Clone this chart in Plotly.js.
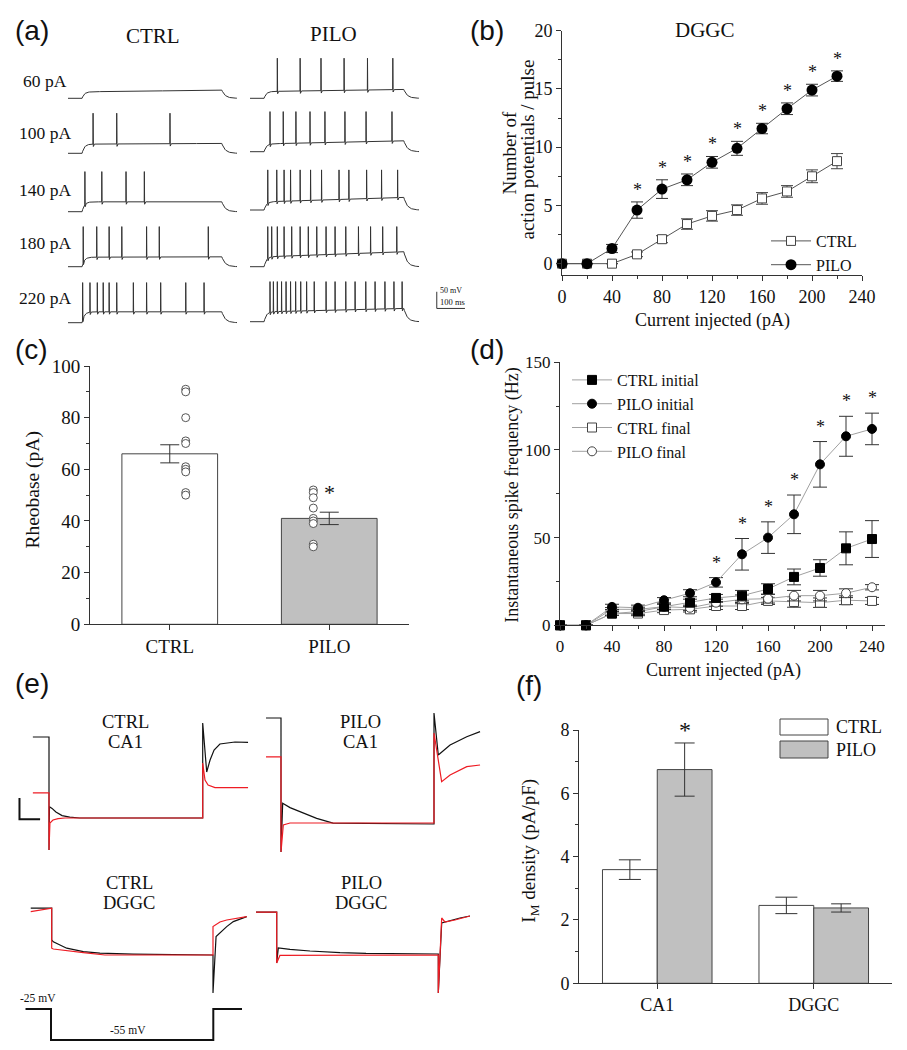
<!DOCTYPE html>
<html><head><meta charset="utf-8">
<script src="https://cdn.plot.ly/plotly-3.0.1.min.js"></script>
<style>html,body{margin:0;padding:0;background:#fff}#chart{width:907px;height:1050px}</style>
</head><body><div id="chart"></div>
<script>
// ================= DATA =================
// (a) firing traces: spike times (ms) per current step, plateau potentials (mV)
const stepLabels = ['60 pA','100 pA','140 pA','180 pA','220 pA'];
const ctrlSpikes = [
  [],
  [89, 173, 362],
  [60, 120, 206, 271],
  [54, 102, 146, 191, 279, 324, 498],
  [52, 78, 104, 125, 146, 173, 232, 279, 329, 418, 483]
];
const piloSpikes = [
  [97, 178, 252, 334, 417, 507],
  [71, 118, 163, 213, 266, 337, 412, 504],
  [63, 95, 121, 144, 178, 215, 254, 316, 351, 414, 467, 524],
  [63, 77, 97, 121, 148, 178, 207, 237, 270, 302, 340, 385, 428, 471, 521],
  [71, 83, 97, 112, 128, 144, 162, 180, 201, 228, 270, 302, 340, 373, 411, 444, 479, 511, 540]
];
const ctrlPlatStart = [-51, -43, -41, -42, -38];
const ctrlPlatEnd   = [-46, -41, -41, -41, -38];
const piloPlatStart = [-50, -47, -46, -41, -41];
const piloPlatEnd   = [-44, -38, -33, -26, -31];
const restMV = -70, spikePeakMV = 48, stimOnMS = 50, stimOffMS = 546;

// (b) number of APs / pulse (DGGC)
const currentB = [0, 20, 40, 60, 80, 100, 120, 140, 160, 180, 200, 220];
const ctrlB    = [0, 0, 0, 0.8, 2.1, 3.4, 4.1, 4.6, 5.6, 6.2, 7.5, 8.8];
const ctrlBErr = [0, 0, 0, 0.2, 0.3, 0.45, 0.45, 0.45, 0.5, 0.5, 0.55, 0.65];
const piloB    = [0, 0, 1.3, 4.6, 6.4, 7.2, 8.7, 9.9, 11.6, 13.3, 14.9, 16.1];
const piloBErr = [0, 0, 0.35, 0.7, 0.8, 0.5, 0.5, 0.6, 0.45, 0.5, 0.5, 0.45];
const sigB = [60, 80, 100, 120, 140, 160, 180, 200, 220];

// (c) rheobase
const groupsC = ['CTRL', 'PILO'];
const rheoMean = [66, 41];
const rheoErr = [3.5, 2.4];
const rheoCtrlCells = [91, 90, 80, 71, 70, 61, 60, 59, 51, 50];
const rheoPiloCells = [52, 51, 49, 45, 41, 40, 39, 31, 30];

// (d) instantaneous spike frequency
const currentD = [0, 20, 40, 60, 80, 100, 120, 140, 160, 180, 200, 220, 240];
const ctrlInit     = [0, 0, 6.7, 7.8, 10.6, 12.9, 15.6, 16.9, 20.7, 27.6, 32.7, 43.9, 49.2];
const ctrlInitErr  = [0, 0, 1, 1.5, 1.5, 2, 2, 3, 3, 4.5, 4.7, 9.4, 10.5];
const piloInit     = [0, 0, 10.5, 10, 14.3, 18.3, 24.5, 40.5, 50, 63.3, 91.8, 107.8, 112];
const piloInitErr  = [0, 0, 1.5, 1.5, 1.5, 2, 2.7, 9, 9, 11, 13, 11.4, 9];
const ctrlFinal    = [0, 0, 6.7, 6.7, 8.7, 9.1, 11, 11, 13.9, 13.3, 12.9, 14.3, 13.9];
const ctrlFinalErr = [0, 0, 1, 1.2, 1.5, 1.5, 2, 2, 2, 3, 2.7, 2.5, 2];
const piloFinal    = [0, 0, 9.1, 9.1, 10.6, 10, 12.9, 14.8, 15.2, 16.9, 16.9, 18.3, 21.7];
const piloFinalErr = [0, 0, 1, 1.2, 1.5, 1.5, 2, 2.5, 2.5, 3, 3, 2.5, 1.5];
const sigD = [120, 140, 160, 180, 200, 220, 240];

// (e) M-current recordings: time (ms) from step onset, current (pA); black = control, red = after XE991
const ctrlCA1BlackT = [-105, 0, 0, 3, 20, 45, 85, 135, 200, 1000, 1000, 1026, 1048, 1074, 1112, 1210, 1295];
const ctrlCA1BlackI = [405, 405, -160, 56, 48, 30, 12, 4, 0, 0, 475, 230, 290, 340, 370, 380, 378];
const ctrlCA1RedT   = [-105, 0, 0, 6, 26, 59, 104, 1000, 1000, 1015, 1035, 1080, 1295];
const ctrlCA1RedI   = [126, 126, -160, -25, -10, -3, 0, 0, 275, 190, 165, 152, 152];
const piloCA1BlackT = [-98, 0, 0, 11, 59, 124, 233, 340, 1000, 1000, 1028, 1105, 1214, 1301];
const piloCA1BlackI = [530, 530, -140, 104, 82, 62, 28, 4, 0, 555, 345, 395, 436, 462];
const piloCA1RedT   = [-98, 0, 0, 15, 59, 1000, 1000, 1050, 1105, 1214, 1301];
const piloCA1RedI   = [336, 336, -140, -5, 5, 5, 455, 212, 245, 287, 295];
const ctrlDGBlackT  = [-130, 0, 0, 10, 93, 196, 299, 504, 1000, 1000, 1019, 1043, 1085, 1126, 1209];
const ctrlDGBlackI  = [234, 234, 75, 66, 34, 17, 9, 4, 0, -190, 92, 110, 142, 167, 192];
const ctrlDGRedT    = [-130, 0, 0, 10, 196, 330, 1000, 1000, 1043, 1085, 1209];
const ctrlDGRedI    = [217, 234, 34, 30, 12, 0, 0, 142, 165, 175, 192];
const piloDGBlackT  = [-128, 0, 0, 10, 82, 206, 392, 553, 1000, 1000, 1021, 1072, 1134, 1196];
const piloDGBlackI  = [214, 214, -40, 35, 28, 20, 12, 8, 5, -190, 160, 172, 185, 195];
const piloDGRedT    = [-128, 0, 0, 20, 1000, 1000, 1021, 1041, 1103, 1196];
const piloDGRedI    = [214, 214, -40, -2, 0, -190, 185, 165, 175, 195];
const protoT = [-157, 0, 0, 1000, 1000, 1177];
const protoV = [-25, -25, -55, -55, -25, -25];

// (f) IM density
const regionsF = ['CA1', 'DGGC'];
const imCtrl = [3.59, 2.46];
const imCtrlErr = [0.31, 0.26];
const imPilo = [6.75, 2.38];
const imPiloErr = [0.84, 0.13];
const sigF = [true, false];

// ================= HELPERS =================
const W = 907, H = 1050;
const fx = p => p / W;
const fy = p => 1 - p / H;
const dom = (a, b) => [a / W, b / W];
const vdom = (top, bottom) => [1 - bottom / H, 1 - top / H];
const serif = 'Liberation Serif, Times New Roman, serif';
const sans = 'Liberation Sans, Arial, sans-serif';
const AX = '#333';

function axisStyle(extra) {
  return Object.assign({
    showline: true, linecolor: AX, linewidth: 1, ticks: 'outside', ticklen: 5,
    tickwidth: 1, tickcolor: AX, showgrid: false, zeroline: false,
    tickfont: {family: serif, size: 18, color: '#111'}, fixedrange: true
  }, extra);
}
function minor(d) { return {dtick: d, ticks: 'outside', ticklen: 3, tickwidth: 1, tickcolor: AX, showgrid: false}; }

function buildFiring(spikes, pStart, pEnd) {
  const base = restMV, on = stimOnMS, off = stimOffMS;
  const plat = t => pStart + (pEnd - pStart) * Math.min(Math.max((t - on) / (off - on), 0), 1);
  const sub = t => {
    if (t < on) return base;
    if (t < off) return base + (plat(t) - base) * (1 - Math.exp(-(t - on) / 8));
    const vOff = base + (plat(off) - base) * (1 - Math.exp(-(off - on) / 8));
    return base + (vOff - base) * Math.exp(-(t - off) / 12);
  };
  const pts = [];
  const inSpike = t => spikes.some(s => t >= s - 0.5 && t <= s + 5);
  for (let t = 0; t <= 600; t += 2) if (!inSpike(t)) pts.push([t, sub(t)]);
  pts.push([on, base]);
  spikes.forEach(s => {
    pts.push([s - 0.5, sub(s - 0.5)], [s, spikePeakMV], [s + 1, sub(s + 1) - 7], [s + 5, sub(s + 5)]);
  });
  pts.sort((a, b) => a[0] - b[0]);
  return {t: pts.map(p => p[0]), v: pts.map(p => p[1])};
}

const traces = [];
const annotations = [];
const shapes = [];
const layout = {
  width: W, height: H, margin: {l: 0, r: 0, t: 0, b: 0},
  paper_bgcolor: '#fff', plot_bgcolor: 'rgba(0,0,0,0)',
  showlegend: true, barmode: 'group', bargap: 0.3, bargroupgap: 0,
  font: {family: serif, color: '#111'},
  annotations: annotations, shapes: shapes
};

function ann(text, cx, cy, size, extra) {
  annotations.push(Object.assign({
    text: text, x: fx(cx), y: fy(cy), xref: 'paper', yref: 'paper',
    xanchor: 'center', yanchor: 'middle', showarrow: false,
    font: {family: serif, size: size, color: '#111'}
  }, extra || {}));
}

// ================= PANEL (a) =================
const kA = 0.2817, mvA = 0.34;
const ctrlBasePx = [98.3, 153.3, 211.7, 266.7, 322.7];
const piloBasePx = [98.3, 151.7, 210, 266.7, 321.7];
for (let i = 0; i < 5; i++) {
  const c = buildFiring(ctrlSpikes[i], ctrlPlatStart[i], ctrlPlatEnd[i]);
  const p = buildFiring(piloSpikes[i], piloPlatStart[i], piloPlatEnd[i]);
  const nc = 5 + i, np = 10 + i;
  traces.push({type: 'scatter', mode: 'lines', x: c.t, y: c.v, xaxis: 'x' + nc, yaxis: 'y' + nc,
    line: {color: '#333', width: 1}, showlegend: false, hoverinfo: 'skip'});
  traces.push({type: 'scatter', mode: 'lines', x: p.t, y: p.v, xaxis: 'x' + np, yaxis: 'y' + np,
    line: {color: '#333', width: 1}, showlegend: false, hoverinfo: 'skip'});
  const bc = ctrlBasePx[i] + 15 * mvA, bp = piloBasePx[i] + 15 * mvA;
  layout['xaxis' + nc] = {domain: dom(68, 68 + 600 * kA), range: [0, 600], visible: false, anchor: 'y' + nc, fixedrange: true};
  layout['yaxis' + nc] = {domain: vdom(bc - 145 * mvA, bc), range: [-85, 60], visible: false, anchor: 'x' + nc, fixedrange: true};
  layout['xaxis' + np] = {domain: dom(250, 250 + 770 * kA), range: [0, 770], visible: false, anchor: 'y' + np, fixedrange: true};
  layout['yaxis' + np] = {domain: vdom(bp - 145 * mvA, bp), range: [-85, 60], visible: false, anchor: 'x' + np, fixedrange: true};
}
const rowLabelY = [81, 133, 190, 243, 298];
stepLabels.forEach((s, i) => ann(s, 45, rowLabelY[i], 17.5));
ann('CTRL', 153, 36, 21);
ann('PILO', 333, 34, 21);
// scale bar (50 mV / 100 ms) in last PILO row axis
shapes.push({type: 'path', xref: 'x14', yref: 'y14', path: 'M663,18 L663,-31 L763,-31',
  line: {color: '#333', width: 1}});
ann('50 mV', 451, 290, 8);
ann('100 ms', 452.5, 301.5, 8.5);

// ================= PANEL (b) =================
layout.xaxis = axisStyle({domain: dom(562, 862), range: [0, 240], dtick: 40, tick0: 0, anchor: 'y', minor: minor(20)});
layout.yaxis = axisStyle({domain: vdom(30.7, 275.3), range: [-1, 20], dtick: 5, tick0: 0, anchor: 'x', minor: minor(2.5)});
traces.push({type: 'scatter', mode: 'lines+markers', name: 'CTRL', x: currentB, y: ctrlB, xaxis: 'x', yaxis: 'y',
  line: {color: '#555', width: 1}, marker: {symbol: 'square', size: 9, color: '#fff', line: {color: '#444', width: 1}},
  error_y: {type: 'data', array: ctrlBErr, color: '#444', thickness: 1, width: 6}, cliponaxis: false, legend: 'legend'});
traces.push({type: 'scatter', mode: 'lines+markers', name: 'PILO', x: currentB, y: piloB, xaxis: 'x', yaxis: 'y',
  line: {color: '#555', width: 1}, marker: {symbol: 'circle', size: 11, color: '#000'},
  error_y: {type: 'data', array: piloBErr, color: '#333', thickness: 1, width: 6}, cliponaxis: false, legend: 'legend'});
sigB.forEach(xv => {
  const i = currentB.indexOf(xv);
  annotations.push({text: '*', x: xv, y: piloB[i] + piloBErr[i], xref: 'x', yref: 'y', xanchor: 'center', yanchor: 'bottom',
    yshift: 0, showarrow: false, font: {family: serif, size: 18, color: '#111'}});
});
layout.legend = {x: fx(766), y: fy(224), xanchor: 'left', yanchor: 'top', bgcolor: 'rgba(0,0,0,0)', borderwidth: 0,
  font: {family: serif, size: 16, color: '#111'}, itemwidth: 40, tracegroupgap: 0};
ann('DGGC', 704.5, 30, 21);
ann('Number of', 508.5, 152, 19, {textangle: -90});
ann('action potentials / pulse', 527.5, 150, 19, {textangle: -90});
ann('Current injected (pA)', 712, 320, 18);

// ================= PANEL (c) =================
layout.xaxis2 = axisStyle({domain: dom(90, 409), range: [-0.5, 1.5], tickvals: [0, 1], ticktext: groupsC, anchor: 'y2', tickfont: {family: serif, size: 19, color: '#111'}});
layout.yaxis2 = axisStyle({domain: vdom(366, 624.3), range: [0, 100], dtick: 20, tick0: 0, anchor: 'x2', minor: minor(10), tickfont: {family: serif, size: 19, color: '#111'}});
traces.push({type: 'bar', x: [0, 1], y: rheoMean, width: 0.6, xaxis: 'x2', yaxis: 'y2', showlegend: false,
  marker: {color: ['#ffffff', '#c0c0c0'], line: {color: '#444', width: 1}},
  error_y: {type: 'data', array: rheoErr, color: '#333', thickness: 1, width: 9.5}, hoverinfo: 'skip'});
traces.push({type: 'scatter', mode: 'markers', x: rheoCtrlCells.map(() => 0.1), y: rheoCtrlCells, xaxis: 'x2', yaxis: 'y2',
  showlegend: false, marker: {symbol: 'circle', size: 8, color: '#fff', line: {color: '#555', width: 1}}, hoverinfo: 'skip'});
traces.push({type: 'scatter', mode: 'markers', x: rheoPiloCells.map(() => 0.9), y: rheoPiloCells, xaxis: 'x2', yaxis: 'y2',
  showlegend: false, marker: {symbol: 'circle', size: 8, color: '#fff', line: {color: '#555', width: 1}}, hoverinfo: 'skip'});
annotations.push({text: '*', x: 1, y: rheoMean[1] + rheoErr[1], xref: 'x2', yref: 'y2', xanchor: 'center', yanchor: 'bottom',
  yshift: 5, showarrow: false, font: {family: serif, size: 22, color: '#111'}});
ann('Rheobase (pA)', 33.3, 489.3, 19.5, {textangle: -90});

// ================= PANEL (d) =================
const tf17 = {family: serif, size: 17, color: '#111'};
layout.xaxis3 = axisStyle({domain: dom(560, 885), range: [0, 250], dtick: 40, tick0: 0, anchor: 'y3', minor: minor(20), tickfont: tf17});
layout.yaxis3 = axisStyle({domain: vdom(362.3, 625.3), range: [0, 150], dtick: 50, tick0: 0, anchor: 'x3', minor: minor(25), tickfont: tf17});
function dTrace(name, y, err, symbol, filled) {
  return {type: 'scatter', mode: 'lines+markers', name: name, x: currentD, y: y, xaxis: 'x3', yaxis: 'y3',
    line: {color: '#a0a0a0', width: 1},
    marker: {symbol: symbol, size: 9, color: filled ? '#000' : '#fff', line: {color: filled ? '#000' : '#444', width: 1}},
    error_y: {type: 'data', array: err, color: '#333', thickness: 1, width: 7}, cliponaxis: false, legend: 'legend2'};
}
traces.push(dTrace('CTRL final', ctrlFinal, ctrlFinalErr, 'square', false));
traces.push(dTrace('PILO final', piloFinal, piloFinalErr, 'circle', false));
traces.push(dTrace('CTRL initial', ctrlInit, ctrlInitErr, 'square', true));
traces.push(dTrace('PILO initial', piloInit, piloInitErr, 'circle', true));
traces[traces.length - 4].legendrank = 3;
traces[traces.length - 3].legendrank = 4;
traces[traces.length - 2].legendrank = 1;
traces[traces.length - 1].legendrank = 2;
sigD.forEach(xv => {
  const i = currentD.indexOf(xv);
  annotations.push({text: '*', x: xv, y: piloInit[i] + piloInitErr[i], xref: 'x3', yref: 'y3', xanchor: 'center', yanchor: 'bottom',
    yshift: 3, showarrow: false, font: {family: serif, size: 18, color: '#111'}});
});
layout.legend2 = {x: fx(567), y: fy(363), xanchor: 'left', yanchor: 'top', bgcolor: 'rgba(0,0,0,0)', borderwidth: 0,
  font: {family: serif, size: 16, color: '#111'}, itemwidth: 40, tracegroupgap: 0, traceorder: 'normal'};
ann('Instantaneous spike frequency (Hz)', 511.7, 495, 18, {textangle: -90});
ann('Current injected (pA)', 723, 670, 18);

// ================= PANEL (e) =================
function eAxes(n, x0, k, xr, ref) {
  layout['xaxis' + n] = {domain: dom(x0 + xr[0] * k, x0 + xr[1] * k), range: xr, visible: false, anchor: 'y' + n, fixedrange: true};
  layout['yaxis' + n] = {domain: vdom(ref - 700 / 5, ref + 250 / 5), range: [-250, 700], visible: false, anchor: 'x' + n, fixedrange: true};
}
eAxes(15, 49, 0.1537, [-250, 1320], 818);
eAxes(16, 281, 0.153, [-150, 1320], 824);
eAxes(17, 51.7, 0.1613, [-150, 1320], 955);
eAxes(18, 276.7, 0.1616, [-150, 1320], 955);
function eTrace(t, i, n, color) {
  return {type: 'scatter', mode: 'lines', x: t, y: i, xaxis: 'x' + n, yaxis: 'y' + n,
    line: {color: color, width: 1.2}, showlegend: false, hoverinfo: 'skip'};
}
const BLK = '#111', RED = '#ee1c24';
traces.push(eTrace(ctrlCA1BlackT, ctrlCA1BlackI, 15, BLK), eTrace(ctrlCA1RedT, ctrlCA1RedI, 15, RED));
traces.push(eTrace(piloCA1BlackT, piloCA1BlackI, 16, BLK), eTrace(piloCA1RedT, piloCA1RedI, 16, RED));
traces.push(eTrace(ctrlDGBlackT, ctrlDGBlackI, 17, BLK), eTrace(ctrlDGRedT, ctrlDGRedI, 17, RED));
traces.push(eTrace(piloDGBlackT, piloDGBlackI, 18, BLK), eTrace(piloDGRedT, piloDGRedI, 18, RED));
layout.xaxis19 = {domain: dom(51 - 170 * 0.1623, 51 + 1200 * 0.1623), range: [-170, 1200], visible: false, anchor: 'y19', fixedrange: true};
layout.yaxis19 = {domain: vdom(1003.8, 1045.2), range: [-60, -20], visible: false, anchor: 'x19', fixedrange: true};
traces.push({type: 'scatter', mode: 'lines', x: protoT, y: protoV, xaxis: 'x19', yaxis: 'y19',
  line: {color: '#111', width: 2}, showlegend: false, hoverinfo: 'skip'});
shapes.push({type: 'path', xref: 'x15', yref: 'y15', path: 'M-192,100 L-192,-6 L-58,-6', line: {color: '#111', width: 2}});
ann('CTRL', 125, 722, 18.5); ann('CA1', 125, 742, 18.5);
ann('PILO', 360, 722, 18.5); ann('CA1', 360, 742, 18.5);
ann('CTRL', 129, 883, 18.5); ann('DGGC', 129, 903, 18.5);
ann('PILO', 361, 883, 18.5); ann('DGGC', 361, 903, 18.5);
ann('-25 mV', 37.5, 997.5, 11.5);
ann('-55 mV', 127.5, 1030, 11.5);

// ================= PANEL (f) =================
layout.xaxis4 = axisStyle({domain: dom(579, 892), range: [-0.5, 1.5], tickvals: [0, 1], ticktext: regionsF, anchor: 'y4'});
layout.yaxis4 = axisStyle({domain: vdom(730, 983.3), range: [0, 8], dtick: 2, tick0: 0, anchor: 'x4', minor: minor(1)});
traces.push({type: 'bar', name: 'CTRL', x: [0, 1], y: imCtrl, xaxis: 'x4', yaxis: 'y4', showlegend: false,
  marker: {color: '#ffffff', line: {color: '#444', width: 1}}, offsetgroup: 'c',
  error_y: {type: 'data', array: imCtrlErr, color: '#333', thickness: 1, width: 11}, hoverinfo: 'skip'});
traces.push({type: 'bar', name: 'PILO', x: [0, 1], y: imPilo, xaxis: 'x4', yaxis: 'y4', showlegend: false,
  marker: {color: '#c0c0c0', line: {color: '#444', width: 1}}, offsetgroup: 'p',
  error_y: {type: 'data', array: imPiloErr, color: '#333', thickness: 1, width: 10}, hoverinfo: 'skip'});
sigF.forEach((s, i) => {
  if (!s) return;
  annotations.push({text: '*', x: i + 0.175, y: imPilo[i] + imPiloErr[i], xref: 'x4', yref: 'y4', xanchor: 'center', yanchor: 'bottom',
    yshift: -2, showarrow: false, font: {family: serif, size: 24, color: '#111'}});
});
shapes.push({type: 'rect', xref: 'paper', yref: 'paper', x0: fx(780), x1: fx(828), y0: fy(735), y1: fy(719),
  fillcolor: '#ffffff', line: {color: '#444', width: 1}});
shapes.push({type: 'rect', xref: 'paper', yref: 'paper', x0: fx(780), x1: fx(828), y0: fy(758), y1: fy(741),
  fillcolor: '#c0c0c0', line: {color: '#444', width: 1}});
ann('CTRL', 834, 727, 18, {xanchor: 'left'});
ann('PILO', 834, 750, 18, {xanchor: 'left'});
ann('I<sub>M</sub> density (pA/pF)', 530, 850.7, 19, {textangle: -90});

// ================= PANEL LABELS =================
const lab = (t, cx, cy) => ann(t, cx, cy, 28, {font: {family: sans, size: 28, color: '#111'}});
lab('(a)', 32, 30); lab('(b)', 487, 30); lab('(c)', 31, 350);
lab('(d)', 487, 350); lab('(e)', 32, 683); lab('(f)', 529, 685);

Plotly.newPlot('chart', traces, layout, {staticPlot: true, displayModeBar: false});
</script>
</body></html>
